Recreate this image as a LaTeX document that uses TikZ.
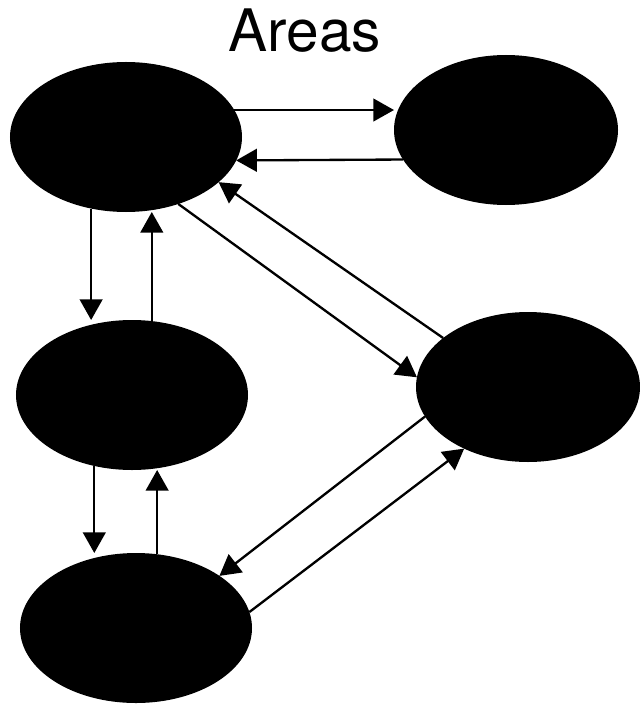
\documentclass[tikz,border=0pt]{standalone}
\usepackage{fontspec}
\newfontfamily\titlefont{TeX Gyre Heros}
\usetikzlibrary{shapes.geometric,arrows.meta}
\tikzset{
    % standard arrow tip
    >={Triangle[length=6.2mm,width=6.8mm]},
    % black areas
    area/.style={
           shape=ellipse,
           fill=black,
           inner sep=0pt,
           outer sep=0pt,
           minimum width=69.6mm,
           minimum height=45mm},
    % links between areas
    link/.style={
           ->,
           line width=0.7mm}
}
\begin{document}
\begin{tikzpicture}[x=0.3mm, y=-0.3mm]

%%%%%%%%%%%%%%%%%%%%%%%%%%%%%%%%%

% page
\path [use as bounding box, fill=white] (0,0) rectangle (639,704);

% title
\node [anchor=base, inner sep=0pt] (title) at (305,52) {\titlefont\fontsize{50}{60}\selectfont Areas};

% areas
\node [area] (A) at (126,137) {};
\node [area, minimum width=67.2mm] (B) at (506,130) {};
\node [area] (C) at (132,395) {};
\node [area, minimum width=67.2mm] (D) at (528,387) {};
\node [area] (E) at (136,628) {};

% top pair
\draw [link] (A.14) -- (A.14 -| B.west);
\draw [link] (B.196) -- (A.-12);

% left column
\draw [link] (A.244) -- (A.244 |- C.north);
\draw [link] (C.75) -- (C.75 |- A.south);
\draw [link] (C.242) -- (C.242 |- E.north);
\draw [link] (E.74) -- (E.74 |- C.south);

% diagonals
\draw [link] (A.-52) -- (D.175);
\draw [link] (D.150) -- (A.-26);
\draw [link] (D.196) -- (E.32);
\draw [link] (E.8) -- (D.224);

\end{tikzpicture}
\end{document}
